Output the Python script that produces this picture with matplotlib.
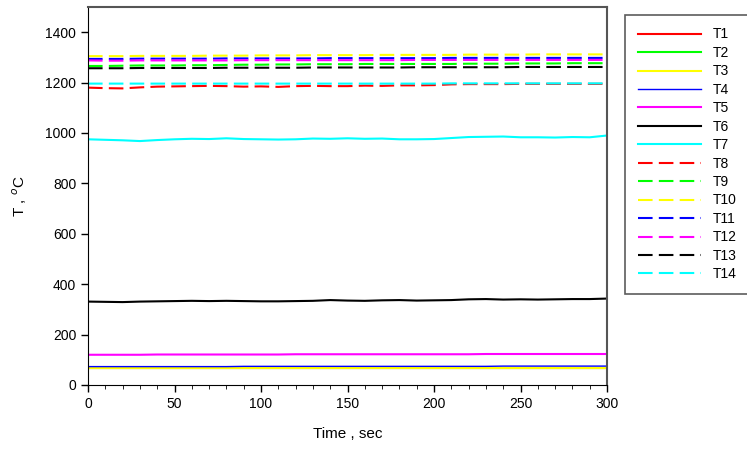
import numpy as np
import matplotlib
matplotlib.use('Agg')
import matplotlib.pyplot as plt
from matplotlib.ticker import MultipleLocator

plt.rcParams['font.family'] = ['Liberation Sans', 'DejaVu Sans']

# time axis, every 10 s
time = np.arange(0, 301, 10)

# solid lines (T1 .. T7)
T1 = [67, 67, 67, 67, 67, 67, 67, 67, 67, 67, 67, 67, 67, 67, 67, 67,
      67, 67, 67, 67, 67, 67, 67, 67, 67, 67, 67, 67, 67, 67, 67]
T2 = [67, 67, 67, 67, 67, 67, 67, 67, 67, 67, 67, 67, 67, 67, 67, 67,
      67, 67, 67, 67, 67, 67, 67, 67, 67, 67, 67, 67, 67, 67, 67]
T3 = [66, 66, 66, 66, 66, 66, 66, 66, 66, 66, 66, 66, 66, 66, 66, 66,
      66, 66, 66, 66, 66, 66, 66, 66, 66, 66, 66, 66, 66, 66, 66]
T4 = [73, 73, 73, 73, 73, 73, 73, 73, 73, 74, 74, 74, 74, 74, 74, 74,
      74, 74, 74, 74, 74, 74, 74, 74, 75, 75, 75, 75, 75, 75, 75]
T5 = [120, 120, 120, 120, 121, 121, 121, 121, 121, 121, 121, 121, 122, 122, 122, 122,
      122, 122, 122, 122, 122, 122, 122, 123, 123, 123, 123, 123, 123, 123, 123]
T6 = [331, 330, 329, 331, 332, 333, 334, 333, 334, 333, 332, 332, 333, 334, 337, 335,
      334, 336, 337, 335, 336, 337, 340, 341, 339, 340, 339, 340, 341, 341, 343]
T7 = [975, 973, 971, 968, 972, 975, 977, 976, 979, 976, 975, 974, 975, 978, 977, 979,
      977, 978, 975, 975, 976, 980, 984, 985, 986, 983, 983, 982, 984, 983, 990]

# dashed lines (T8 .. T14)
T8 = [1180, 1178, 1177, 1181, 1184, 1185, 1186, 1187, 1186, 1184, 1185, 1183, 1186, 1187, 1186, 1186,
      1188, 1187, 1189, 1189, 1190, 1193, 1194, 1194, 1194, 1195, 1195, 1195, 1195, 1195, 1195]
T9 = [1266, 1266, 1267, 1268, 1268, 1268, 1269, 1269, 1270, 1271, 1271, 1272, 1272, 1273, 1273, 1273,
      1274, 1274, 1274, 1274, 1274, 1274, 1275, 1275, 1275, 1276, 1276, 1276, 1277, 1277, 1277]
T10 = [1305, 1305, 1305, 1306, 1306, 1306, 1306, 1307, 1307, 1307, 1308, 1308, 1308, 1309, 1309, 1309,
       1309, 1310, 1310, 1310, 1310, 1310, 1311, 1311, 1311, 1311, 1312, 1312, 1312, 1312, 1312]
T11 = [1294, 1294, 1294, 1295, 1295, 1295, 1295, 1295, 1296, 1296, 1296, 1296, 1296, 1296, 1297, 1297,
       1297, 1297, 1297, 1297, 1297, 1298, 1298, 1298, 1298, 1298, 1298, 1298, 1298, 1298, 1298]
T12 = [1288, 1287, 1287, 1288, 1288, 1288, 1288, 1288, 1288, 1289, 1289, 1289, 1289, 1289, 1289, 1289,
       1289, 1289, 1289, 1290, 1290, 1290, 1290, 1290, 1290, 1290, 1290, 1290, 1290, 1290, 1290]
T13 = [1257, 1257, 1257, 1258, 1258, 1258, 1258, 1258, 1259, 1259, 1259, 1259, 1259, 1260, 1260, 1260,
       1260, 1260, 1260, 1261, 1261, 1261, 1261, 1261, 1261, 1262, 1262, 1262, 1262, 1262, 1262]
T14 = [1196, 1196, 1196, 1196, 1196, 1196, 1196, 1196, 1196, 1196, 1196, 1196, 1196, 1196, 1196, 1196,
       1196, 1196, 1196, 1196, 1196, 1197, 1197, 1197, 1197, 1197, 1197, 1197, 1197, 1197, 1197]

names = ['T%d' % i for i in range(1, 15)]
series = [T1, T2, T3, T4, T5, T6, T7, T8, T9, T10, T11, T12, T13, T14]
colors = ['#ff0000', '#00ff00', '#ffff00', '#0000ff', '#ff00ff', '#000000', '#00ffff'] * 2

fig = plt.figure(figsize=(7.47, 4.53), dpi=100)
ax = fig.add_axes([88 / 747, 1 - 385 / 453, (607 - 88) / 747, (385 - 7) / 453])

for i, (name, ys) in enumerate(zip(names, series)):
    if i < 7:
        lw = 1.0 if name == 'T4' else 1.5
        ax.plot(time, ys, color=colors[i], lw=lw, label=name)
    else:
        ax.plot(time, ys, color=colors[i], lw=1.5, dashes=(7, 3), label=name)

ax.set_xlim(0, 300)
ax.set_ylim(0, 1500)
ax.set_yticks(np.arange(0, 1401, 200))
ax.xaxis.set_major_locator(MultipleLocator(50))
ax.xaxis.set_minor_locator(MultipleLocator(10))
ax.tick_params(axis='both', direction='out', labelsize=10, length=5, width=1)
ax.tick_params(axis='x', which='minor', direction='out', length=3)
ax.set_xlabel('Time , sec', fontsize=11, labelpad=12)
ax.set_ylabel(r'T , $^{o}$C', fontsize=11, labelpad=12)

for side in ['top', 'right']:
    ax.spines[side].set_color('#555555')
    ax.spines[side].set_linewidth(1.5)

leg = fig.legend(loc='upper left', bbox_to_anchor=(625 / 747, 1 - 15 / 453),
                 fontsize=10, handlelength=4.6, labelspacing=0.32,
                 fancybox=False, edgecolor='#333333', borderpad=0.9,
                 handletextpad=0.85, borderaxespad=0)
leg.get_frame().set_linewidth(1.2)

fig.savefig('out.png', dpi=100)
